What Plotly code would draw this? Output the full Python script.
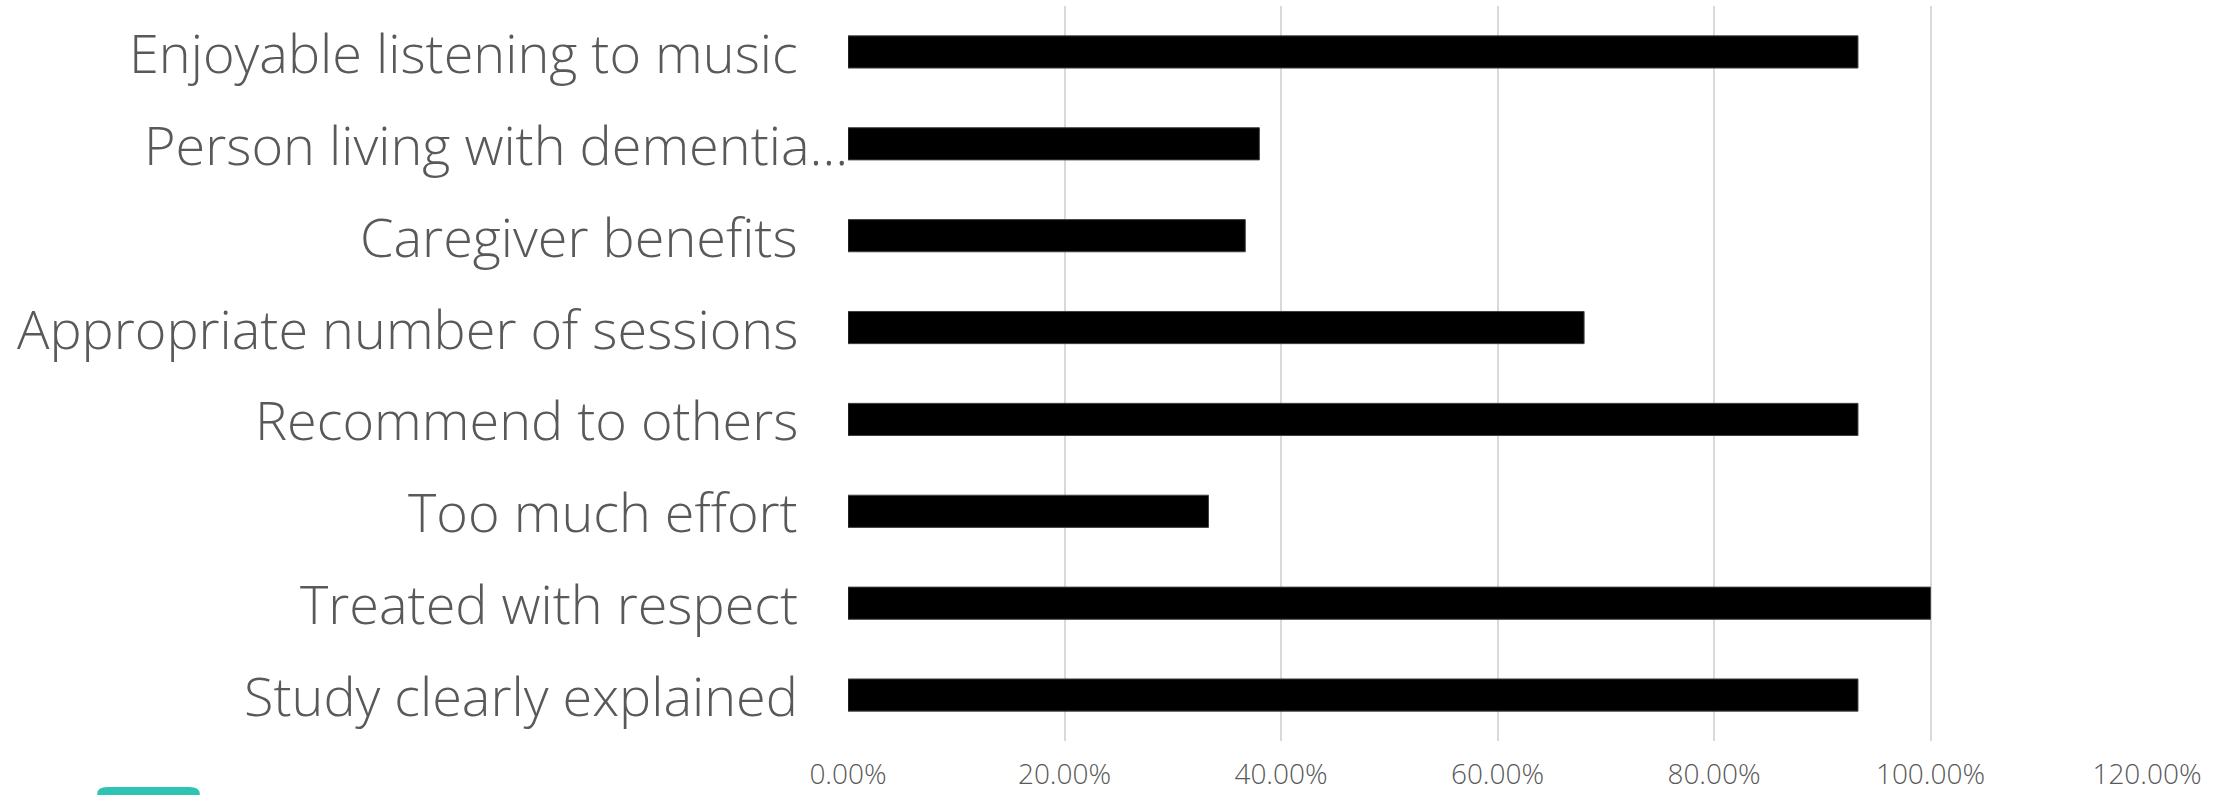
import plotly.graph_objects as go

categories = [
    "Study clearly explained",
    "Treated with respect",
    "Too much effort",
    "Recommend to others",
    "Appropriate number of sessions",
    "Caregiver benefits",
    "Person living with dementia…",
    "Enjoyable listening to music",
]
values = [0.933, 1.0, 0.333, 0.933, 0.68, 0.367, 0.38, 0.933]
tick_vals = [0, 0.2, 0.4, 0.6, 0.8, 1.0, 1.2]
tick_text = ["0.00%", "20.00%", "40.00%", "60.00%", "80.00%", "100.00%", "120.00%"]

LABEL_FONT = "Open Sans"
GREY = "#595959"

fig = go.Figure()
fig.add_trace(go.Bar(
    y=categories, x=values, orientation="h",
    marker=dict(color="#000000", line=dict(color="#404040", width=1)),
    width=0.35,
))

annotations = []
for cat in categories:
    shift = -48 if not cat.endswith("…") else 2
    annotations.append(dict(
        x=0, y=cat, xref="paper", yref="y", text=cat, showarrow=False,
        xanchor="right", yanchor="middle", xshift=shift,
        font=dict(family=LABEL_FONT, size=54, color=GREY, weight=300),
    ))

fig.update_layout(
    width=2236, height=795,
    margin=dict(l=848, r=89, t=6, b=54, autoexpand=False),
    paper_bgcolor="white", plot_bgcolor="white",
    showlegend=False,
    annotations=annotations,
    xaxis=dict(
        range=[0, 1.2], tickvals=tick_vals, ticktext=tick_text,
        showgrid=True, gridcolor="#D9D9D9", gridwidth=2,
        zeroline=False, showline=False, ticks="",
        tickfont=dict(family=LABEL_FONT, size=28, color=GREY, weight=300),
        ticklabelstandoff=14, automargin=False,
    ),
    yaxis=dict(
        categoryorder="array", categoryarray=categories,
        showticklabels=False, showgrid=False, zeroline=False, ticks="",
        range=[-0.5, 7.5], automargin=False,
    ),
    shapes=[dict(
        type="path", xref="paper", yref="paper",
        path="M -0.578 -0.08 L -0.578 -0.072 Q -0.578 -0.0626 -0.570 -0.0626 L -0.507 -0.0626 Q -0.499 -0.0626 -0.499 -0.072 L -0.499 -0.08 Z",
        fillcolor="#2DC4B4", line=dict(width=0), layer="above",
    )],
)

fig.write_html("out.html", config={"displayModeBar": False},
               post_script="document.body.style.margin='0';")
